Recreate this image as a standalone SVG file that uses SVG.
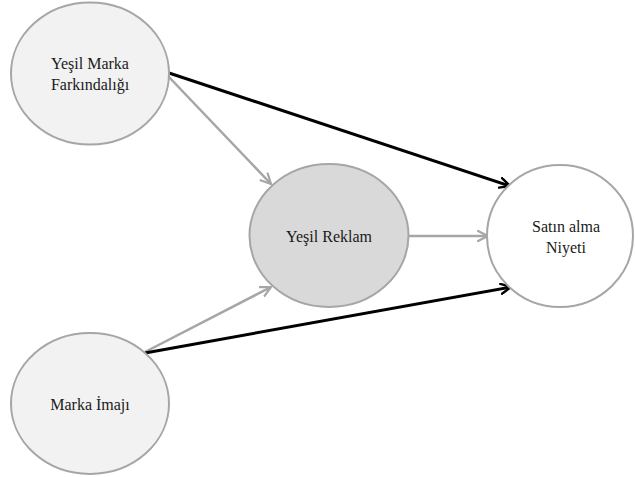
<svg xmlns="http://www.w3.org/2000/svg" width="635" height="477" viewBox="0 0 635 477">
<defs>
<style>
.node{stroke:#a6a6a6;stroke-width:2}
.lbl{font-family:"Liberation Serif","Times New Roman",serif;font-size:16px;fill:#1a1a1a;text-anchor:middle}
.g{stroke:#a6a6a6;stroke-width:2.5;fill:none}
.b{stroke:#000;stroke-width:3;fill:none}
</style>
<marker id="ag" viewBox="0 0 12 12" refX="11" refY="6" markerWidth="12" markerHeight="12" markerUnits="userSpaceOnUse" orient="auto">
<path d="M1,1 L11,6 L1,11" fill="none" stroke="#a6a6a6" stroke-width="2.2" stroke-linecap="round" stroke-linejoin="round"/>
</marker>
<marker id="ab" viewBox="0 0 12 12" refX="11" refY="6" markerWidth="12" markerHeight="12" markerUnits="userSpaceOnUse" orient="auto">
<path d="M1,1 L11,6 L1,11" fill="none" stroke="#000" stroke-width="2.4" stroke-linecap="round" stroke-linejoin="round"/>
</marker>
</defs>
<rect width="635" height="477" fill="#fff"/>
<g id="connectors">
<line class="g" x1="168" y1="76" x2="271" y2="184" marker-end="url(#ag)"/>
<line class="b" x1="169" y1="73" x2="510" y2="186" marker-end="url(#ab)"/>
<line class="g" x1="409" y1="236" x2="488" y2="236" marker-end="url(#ag)"/>
<line class="g" x1="145" y1="352" x2="271" y2="287" marker-end="url(#ag)"/>
<line class="b" x1="145" y1="353" x2="511" y2="287" marker-end="url(#ab)"/>
</g>
<g id="node-farkindalik">
<ellipse class="node" cx="90" cy="73.5" rx="79" ry="71" fill="#f2f2f2"/>
<text class="lbl" x="90" y="69">Yeşil Marka</text>
<text class="lbl" x="90" y="90">Farkındalığı</text>
</g>
<g id="node-reklam">
<ellipse class="node" cx="329" cy="235.5" rx="79.5" ry="71.5" fill="#d9d9d9"/>
<text class="lbl" x="329" y="242">Yeşil Reklam</text>
</g>
<g id="node-niyet">
<ellipse class="node" cx="560" cy="236" rx="73" ry="71" fill="#fff"/>
<text class="lbl" x="566" y="232">Satın alma</text>
<text class="lbl" x="566" y="253">Niyeti</text>
</g>
<g id="node-imaj">
<ellipse class="node" cx="90" cy="403.5" rx="79" ry="70.5" fill="#f2f2f2"/>
<text class="lbl" x="90" y="410">Marka İmajı</text>
</g>
</svg>
